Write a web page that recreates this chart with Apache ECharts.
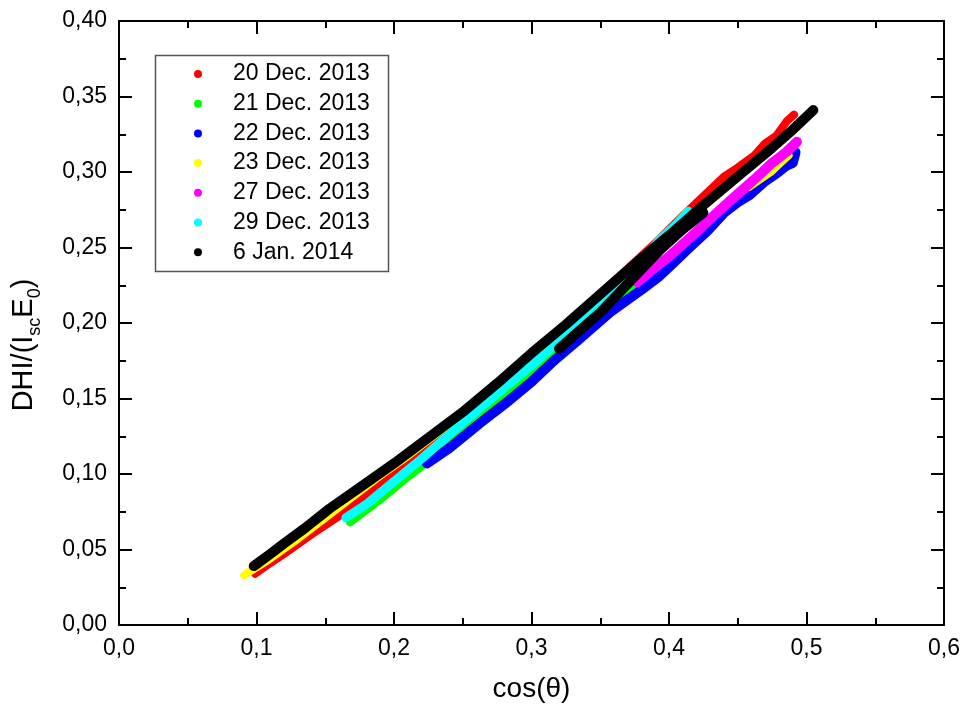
<!DOCTYPE html>
<html>
<head>
<meta charset="utf-8">
<script src="https://cdn.jsdelivr.net/npm/echarts@6/dist/echarts.min.js"></script>
<style>html,body{margin:0;padding:0;background:#fff;}#c{width:964px;height:713px;}</style>
</head>
<body>
<div id="c"></div>
<script>
// ---- data: [cos(theta), DHI/(Isc E0)] ----
const seriesNames = ['20 Dec. 2013','21 Dec. 2013','22 Dec. 2013','23 Dec. 2013','27 Dec. 2013','29 Dec. 2013','6 Jan. 2014'];
const seriesColors = ['#ff0000','#00ff00','#0000ff','#ffff00','#ff00ff','#00ffff','#000000'];

const dec20 = [[0.099,0.034],[0.11,0.041],[0.12,0.047],[0.14,0.060],[0.16,0.072],[0.18,0.086],[0.20,0.101],[0.225,0.119],[0.25,0.138],[0.27,0.155],[0.29,0.171],[0.31,0.187],[0.33,0.203],[0.35,0.219],[0.37,0.236],[0.39,0.253],[0.41,0.271],[0.425,0.284],[0.44,0.297],[0.45,0.303],[0.462,0.311],[0.47,0.319],[0.478,0.324],[0.486,0.334],[0.491,0.338]];
const dec21 = [[0.168,0.068],[0.19,0.083],[0.21,0.098],[0.23,0.112],[0.25,0.127],[0.27,0.143],[0.29,0.159],[0.31,0.175],[0.33,0.190],[0.35,0.206],[0.37,0.222],[0.385,0.235]];
const dec22 = [[0.224,0.107],[0.24,0.117],[0.263,0.134],[0.28,0.146],[0.30,0.161],[0.315,0.174],[0.333,0.188],[0.357,0.207],[0.38,0.222],[0.393,0.231],[0.40,0.237],[0.415,0.250],[0.428,0.261],[0.44,0.273],[0.45,0.280],[0.459,0.285],[0.47,0.294],[0.478,0.299],[0.485,0.304],[0.490,0.306],[0.492,0.313]];
const dec23a = [[0.091,0.033],[0.11,0.044],[0.13,0.057],[0.15,0.071],[0.17,0.085],[0.19,0.099],[0.21,0.112],[0.23,0.126],[0.25,0.140],[0.27,0.154],[0.29,0.168],[0.31,0.183],[0.33,0.198]];
const dec23b = [[0.458,0.290],[0.466,0.295],[0.474,0.300],[0.481,0.306],[0.487,0.311]];
const dec27 = [[0.377,0.227],[0.39,0.237],[0.40,0.244],[0.417,0.258],[0.43,0.269],[0.442,0.279],[0.452,0.287],[0.462,0.295],[0.475,0.306],[0.485,0.313],[0.493,0.320]];
const dec29 = [[0.165,0.071],[0.18,0.080],[0.20,0.095],[0.22,0.110],[0.24,0.126],[0.263,0.144],[0.28,0.157],[0.30,0.172],[0.32,0.188],[0.34,0.204],[0.36,0.222],[0.38,0.241],[0.393,0.255],[0.405,0.265],[0.414,0.274]];
const jan6a = [[0.098,0.039],[0.11,0.047],[0.12,0.054],[0.135,0.064],[0.153,0.077],[0.175,0.091],[0.20,0.107],[0.225,0.124],[0.25,0.141],[0.275,0.160],[0.30,0.180],[0.325,0.199],[0.35,0.219],[0.375,0.239],[0.40,0.258],[0.425,0.278],[0.45,0.297],[0.475,0.316],[0.49,0.328],[0.505,0.341]];
const jan6b = [[0.320,0.183],[0.335,0.195],[0.35,0.207],[0.37,0.226],[0.393,0.248],[0.41,0.262],[0.425,0.273]];

const xTicks = {min:0, max:0.6, interval:0.1};
const yTicks = {min:0, max:0.40, interval:0.05};

const FONT = 'Liberation Sans, Arial, sans-serif';
const chart = echarts.init(document.getElementById('c'), null, {renderer:'canvas'});

function lineSeries(name, color, data, width){
  return {
    name: name, type:'line', data: data, xAxisIndex:0, yAxisIndex:0,
    symbol:'none', showSymbol:false, smooth:false,
    itemStyle:{color: color},
    lineStyle:{color: color, width: width, cap:'round', join:'round'},
    emphasis:{disabled:true}, animation:false
  };
}

const axisCommon = {
  axisLine:{show:true, onZero:false, lineStyle:{color:'#000', width:2}},
  axisTick:{show:true, inside:true, length:13, lineStyle:{color:'#000', width:2}},
  minorTick:{show:true, splitNumber:2, length:7, lineStyle:{color:'#000', width:2}},
  splitLine:{show:false}
};

const fmt = d => v => v.toFixed(d).replace('.', ',');

chart.setOption({
  backgroundColor:'#fff',
  animation:false,
  grid:{left:119, right:20, top:21, bottom:88, containLabel:false},
  xAxis:[
    Object.assign({type:'value', position:'bottom', min:xTicks.min, max:xTicks.max, interval:xTicks.interval,
      name:'cos(θ)', nameLocation:'middle', nameGap:50,
      nameTextStyle:{fontFamily:FONT, fontSize:28, color:'#000'},
      axisLabel:{show:true, margin:12, fontFamily:FONT, fontSize:23, color:'#000', formatter:fmt(1)}}, axisCommon),
    Object.assign({type:'value', position:'top', min:xTicks.min, max:xTicks.max, interval:xTicks.interval,
      axisLabel:{show:false}}, axisCommon)
  ],
  yAxis:[
    Object.assign({type:'value', position:'left', min:yTicks.min, max:yTicks.max, interval:yTicks.interval,
      name:'{n|DHI/(I}{s|sc}{n|E}{s|0}{n|)}', nameLocation:'middle', nameGap:75, nameRotate:90,
      nameTextStyle:{fontFamily:FONT, color:'#000', padding:[0,44,0,0], rich:{
        n:{fontFamily:FONT, fontSize:29, color:'#000', lineHeight:40, verticalAlign:'middle'},
        s:{fontFamily:FONT, fontSize:18, color:'#000', lineHeight:18, verticalAlign:'bottom'}
      }},
      axisLabel:{show:true, margin:12, fontFamily:FONT, fontSize:23, color:'#000', formatter:fmt(2)}}, axisCommon),
    Object.assign({type:'value', position:'right', min:yTicks.min, max:yTicks.max, interval:yTicks.interval,
      axisLabel:{show:false}}, axisCommon)
  ],
  legend:{
    show:true, orient:'vertical', left:194, top:62.5, padding:0,
    itemWidth:60, itemHeight:8, itemGap:6.7, icon:'circle',
    selectedMode:false,
    textStyle:{fontFamily:FONT, fontSize:23, color:'#000', lineHeight:23},
    data: seriesNames
  },
  graphic:[{type:'rect', shape:{x:155.5, y:55.5, width:233, height:216},
    style:{fill:'none', stroke:'#555', lineWidth:1.5}, silent:true, z:100}],
  series:[
    lineSeries(seriesNames[0], seriesColors[0], dec20, 8),
    lineSeries(seriesNames[1], seriesColors[1], dec21, 8),
    lineSeries(seriesNames[2], seriesColors[2], dec22, 10),
    lineSeries(seriesNames[3], seriesColors[3], dec23a, 8),
    lineSeries(seriesNames[3], seriesColors[3], dec23b, 8),
    lineSeries(seriesNames[4], seriesColors[4], dec27, 10),
    lineSeries(seriesNames[5], seriesColors[5], dec29, 9),
    lineSeries(seriesNames[6], seriesColors[6], jan6a, 10),
    lineSeries(seriesNames[6], seriesColors[6], jan6b, 10)
  ]
});
</script>
</body>
</html>
